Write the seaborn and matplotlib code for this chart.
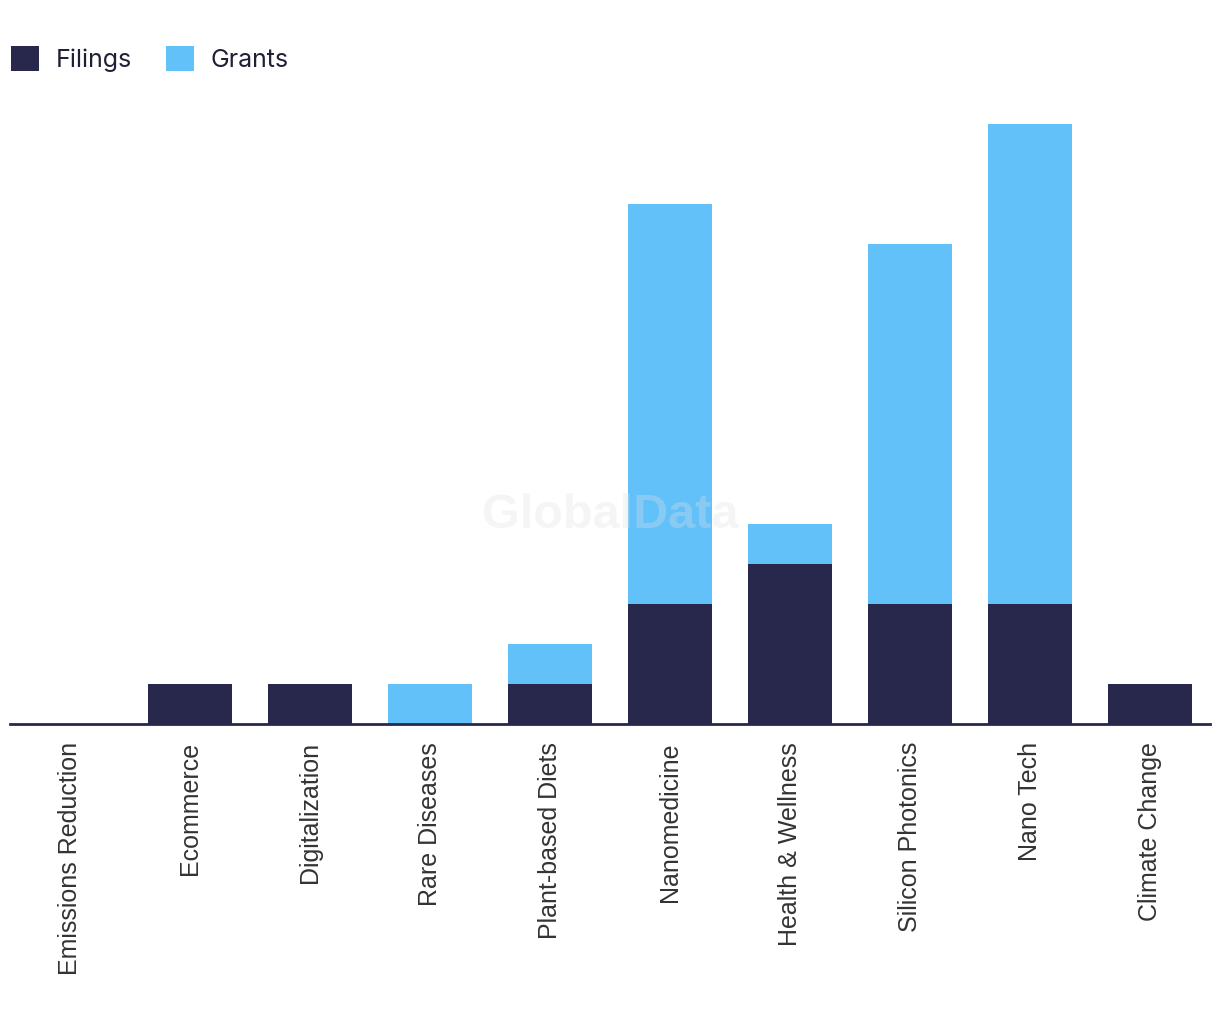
import matplotlib
matplotlib.use("Agg")
import matplotlib.pyplot as plt
from matplotlib.patches import Patch
import seaborn as sns
import pandas as pd

# data
categories = ["Emissions Reduction", "Ecommerce", "Digitalization", "Rare Diseases",
              "Plant-based Diets", "Nanomedicine", "Health & Wellness",
              "Silicon Photonics", "Nano Tech", "Climate Change"]
filings = [0, 1, 1, 0, 1, 3, 4, 3, 3, 1]
grants = [0, 0, 0, 1, 1, 10, 1, 9, 12, 0]

navy = "#27284b"
blue = "#63c1f9"

df = pd.DataFrame({"category": categories, "filings": filings, "grants": grants})
df["total"] = df["filings"] + df["grants"]

sns.set_theme(style="white")
plt.rcParams["font.family"] = ["Liberation Sans", "DejaVu Sans"]

fig = plt.figure(figsize=(12.2, 10.32), dpi=100)
ax = fig.add_axes([10 / 1220, 1 - 724 / 1032, 1200 / 1220, 640 / 1032])

# stacked: total first, filings on top of it
sns.barplot(data=df, x="category", y="total", color=blue, saturation=1, width=0.7,
            linewidth=0, ax=ax)
sns.barplot(data=df, x="category", y="filings", color=navy, saturation=1, width=0.7,
            linewidth=0, ax=ax)

ax.set_xlim(-0.5, len(categories) - 0.5)
ax.set_ylim(0, 16)
ax.set_xlabel("")
ax.set_ylabel("")
ax.set_yticks([])
for side in ["top", "right", "left"]:
    ax.spines[side].set_visible(False)
ax.spines["bottom"].set_color(navy)
ax.spines["bottom"].set_linewidth(2)
ax.tick_params(axis="x", length=0, pad=13, labelsize=18, labelcolor="#333333")
plt.setp(ax.get_xticklabels(), rotation=90, va="top", ha="center")

# watermark
fig.text(0.5, 1 - 515 / 1032, "GlobalData", ha="center", va="center", fontsize=35,
         fontweight="bold", color="#e0e0e0", alpha=0.3, family=["Liberation Sans", "DejaVu Sans"])

# legend
handles = [Patch(facecolor=navy, edgecolor="none", label="Filings"),
           Patch(facecolor=blue, edgecolor="none", label="Grants")]
fig.legend(handles=handles, loc="center left", bbox_to_anchor=(-9 / 1220, 1 - 59 / 1032),
           ncol=2, frameon=False, handlelength=1.13, handleheight=1.13,
           handletextpad=0.66, columnspacing=1.35, borderpad=0.3,
           prop={"family": ["Inter", "DejaVu Sans"], "size": 18})
for t in fig.legends[0].get_texts():
    t.set_color("#1f2035")

fig.savefig("out.png", dpi=100, facecolor="white")
